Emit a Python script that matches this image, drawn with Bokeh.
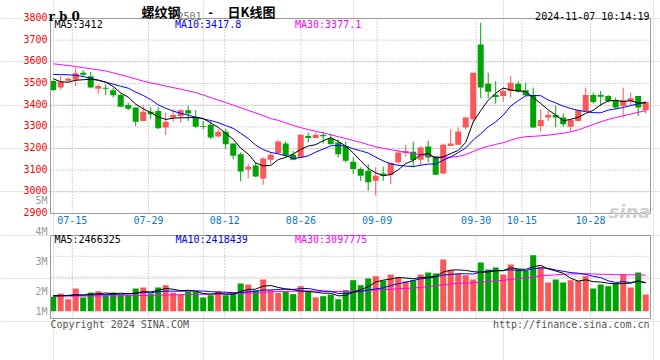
from bokeh.plotting import figure
from bokeh.models import Range1d, Label
from bokeh.embed import file_html
from bokeh.resources import INLINE

dates = ["07-10","07-11","07-12","07-15","07-16","07-17","07-18","07-19","07-22","07-23",
         "07-24","07-25","07-26","07-29","07-30","07-31","08-01","08-02","08-05","08-06",
         "08-07","08-08","08-09","08-12","08-13","08-14","08-15","08-16","08-19","08-20",
         "08-21","08-22","08-23","08-26","08-27","08-28","08-29","08-30","09-02","09-03",
         "09-04","09-05","09-06","09-09","09-10","09-11","09-12","09-13","09-18","09-19",
         "09-20","09-23","09-24","09-25","09-26","09-27","09-30","10-08","10-09","10-10",
         "10-11","10-14","10-15","10-16","10-17","10-18","10-21","10-22","10-23","10-24",
         "10-25","10-28","10-29","10-30","10-31","11-01","11-04","11-05","11-06","11-07"]

opens = [3511,3481,3513,3517,3550,3534,3476,3479,3469,3447,
         3401,3389,3327,3370,3373,3297,3343,3349,3377,3346,
         3303,3309,3255,3277,3223,3174,3103,3122,3062,3148,
         3179,3223,3171,3159,3258,3248,3262,3246,3228,3212,
         3139,3105,3097,3051,3085,3078,3136,3179,3185,3148,
         3209,3162,3085,3212,3217,3297,3335,3680,3499,3447,
         3442,3465,3499,3469,3447,3304,3343,3355,3343,3300,
         3327,3373,3447,3447,3442,3423,3396,3419,3442,3377]
highs = [3515,3534,3528,3573,3561,3553,3496,3496,3481,3452,
         3412,3389,3401,3389,3392,3366,3381,3381,3396,3377,
         3327,3327,3289,3289,3223,3182,3131,3136,3159,3182,
         3239,3232,3189,3266,3274,3274,3278,3269,3243,3232,
         3159,3113,3128,3113,3116,3136,3193,3217,3231,3212,
         3235,3166,3223,3289,3297,3346,3550,3780,3550,3511,
         3481,3534,3511,3504,3481,3381,3373,3396,3361,3335,
         3381,3481,3458,3465,3447,3435,3481,3458,3442,3419]
lows = [3465,3471,3508,3488,3530,3481,3453,3447,3435,3393,
        3377,3304,3327,3335,3289,3263,3324,3320,3327,3294,
        3289,3243,3251,3200,3151,3048,3062,3068,3033,3128,
        3174,3159,3145,3159,3228,3248,3223,3220,3159,3136,
        3082,3050,3005,2983,3051,3036,3128,3163,3113,3120,
        3136,3079,3080,3212,3217,3289,3320,3432,3432,3407,
        3416,3435,3458,3442,3297,3278,3327,3297,3301,3281,
        3324,3373,3407,3396,3412,3381,3343,3396,3350,3361]
closes = [3470,3508,3522,3547,3540,3481,3488,3476,3446,3393,
          3384,3324,3370,3358,3294,3324,3355,3377,3361,3300,
          3300,3251,3277,3220,3166,3094,3116,3071,3154,3171,
          3232,3166,3148,3263,3248,3263,3257,3220,3174,3143,
          3105,3074,3044,3074,3074,3133,3182,3189,3147,3205,
          3159,3079,3217,3223,3278,3343,3550,3481,3462,3438,
          3465,3504,3462,3446,3297,3332,3355,3343,3312,3331,
          3377,3447,3415,3439,3419,3389,3423,3432,3389,3415]
volumes = [1236000,1519000,1030000,1948000,1176000,1605000,1717000,1373000,1605000,1433000,
           1373000,1948000,2034000,1519000,2034000,2232000,1579000,1459000,1665000,1665000,
           1176000,1373000,1717000,1373000,1605000,2378000,2292000,1803000,2721000,1803000,
           1579000,1665000,1459000,2146000,1665000,1176000,1288000,1433000,1030000,1803000,
           2661000,2232000,2807000,3004000,2609000,3150000,2893000,2575000,2661000,3150000,
           3322000,3236000,4438000,3494000,3236000,3090000,2721000,4180000,3579000,3751000,
           3150000,4009000,3605000,3468000,4807000,3811000,2464000,2721000,2464000,2661000,
           2609000,3004000,1948000,2292000,2146000,2378000,3150000,2034000,3322000,1433000]

ma5_head = [3522, 3508, 3506, 3515]
ma10_head = [3542, 3541, 3540, 3538, 3532, 3524, 3515, 3506, 3497]
ma30_head = [3591, 3587, 3583, 3578, 3573, 3568, 3563, 3558, 3549, 3540,
             3531, 3521, 3511, 3503, 3496, 3488, 3481, 3474, 3466, 3458,
             3447, 3435, 3423, 3412, 3400, 3388, 3376, 3364, 3352]
vma5_head = [1300000, 1320000, 1350000, 1420000]
vma10_head = [1340000, 1345000, 1350000, 1370000, 1385000, 1400000, 1420000, 1430000, 1450000]
vma30_head = [1290000, 1290000, 1295000, 1300000, 1300000, 1305000, 1310000, 1310000, 1315000, 1320000,
              1330000, 1340000, 1350000, 1360000, 1375000, 1390000, 1400000, 1410000, 1425000, 1440000,
              1450000, 1460000, 1475000, 1490000, 1505000, 1525000, 1545000, 1565000, 1590000]

tick_dates = ["07-15", "07-29", "08-12", "08-26", "09-09", "09-30", "10-15", "10-28"]
price_ticks = [2900, 3000, 3100, 3200, 3300, 3400, 3500, 3600, 3700, 3800]
vol_labels = ["5M", "4M", "3M", "2M", "1M"]
ma_price_text = ["MA5:3412", "MA10:3417.8", "MA30:3377.1"]
ma_vol_text = ["MA5:2466325", "MA10:2418439", "MA30:3097775"]


def moving_average(vals, n, head):
    out = []
    for i in range(len(vals)):
        if i < n - 1:
            out.append(head[i])
        else:
            out.append(sum(vals[i - n + 1:i + 1]) / n)
    return out


# ---------------- geometry (page pixels) ----------------
W, H = 660, 360
PANEL_L, PANEL_R = 50, 650
PRICE_T, PRICE_B = 18, 213
VOL_T, VOL_B = 235, 318
x_lo, x_hi = -0.36, len(dates) - 0.36
p_lo, p_hi = price_ticks[0], price_ticks[-1]
v_lo, v_hi = -627000, 6498000

xppu = (PANEL_R - PANEL_L) / (x_hi - x_lo)          # px per bar slot
pupp = (p_hi - p_lo) / (PRICE_B - PRICE_T)          # price per px
vupp = (v_hi - v_lo) / (VOL_B - VOL_T)              # volume per px
x_start = x_lo - PANEL_L / xppu
x_end = x_hi + (W - PANEL_R) / xppu
y_start = p_lo - (H - PRICE_B) * pupp
y_end = p_hi + PRICE_T * pupp
vy_start = v_lo - (H - VOL_B) * vupp
vy_end = v_hi + VOL_T * vupp


def gx(X):
    return x_start + X / xppu


def gy(Y):
    return y_end - Y * pupp


UP = "#fa5858"
DOWN = "#00a400"
GRID = "#aaaaaa"
BORDER = "#999999"
MONO = "DejaVu Sans Mono"

xs = list(range(len(dates)))
colors = [UP if c > o else DOWN for o, c in zip(opens, closes)]
body_lo = [min(o, c) for o, c in zip(opens, closes)]
body_hi = [max(max(o, c), min(o, c) + 4) for o, c in zip(opens, closes)]
grid_step = 1.016  # Sina's date grid drifts slightly against the bar slots
grid_x = [dates.index(d) * grid_step - 0.5 for d in tick_dates]

p = figure(width=W, height=H, x_range=Range1d(x_start, x_end), y_range=Range1d(y_start, y_end),
           output_backend="svg", toolbar_location=None, x_axis_location=None,
           y_axis_location=None, min_border=0, title=None)
p.extra_y_ranges = {"vol": Range1d(vy_start, vy_end)}
p.outline_line_color = None
p.background_fill_color = "white"
p.border_fill_color = "white"

# ---- grids ----
inner = price_ticks[1:-1]
p.segment(x0=[x_lo] * len(inner), y0=inner, x1=[x_hi] * len(inner), y1=inner,
          line_color=GRID, line_dash="1 2", line_width=1)
p.segment(x0=grid_x, y0=[p_lo] * len(grid_x), x1=grid_x, y1=[p_hi] * len(grid_x),
          line_color=GRID, line_dash="1 2", line_width=1)
vgrid = [v_lo + k * (v_hi - v_lo) / 4 for k in (1, 2, 3)]
p.segment(x0=[x_lo] * 3, y0=vgrid, x1=[x_hi] * 3, y1=vgrid, y_range_name="vol",
          line_color=GRID, line_dash="1 2", line_width=1)
p.segment(x0=grid_x, y0=[v_lo] * len(grid_x), x1=grid_x, y1=[v_hi] * len(grid_x),
          y_range_name="vol", line_color=GRID, line_dash="1 2", line_width=1)

# ---- candles ----
p.segment(x0=xs, y0=lows, x1=xs, y1=highs, color=colors, line_width=1)
p.vbar(x=xs, width=0.8, bottom=body_lo, top=body_hi, fill_color=colors, line_color=None)
p.line(xs, moving_average(closes, 30, ma30_head), color="#ff00ff", line_width=1)
p.line(xs, moving_average(closes, 10, ma10_head), color="#0000ff", line_width=1)
p.line(xs, moving_average(closes, 5, ma5_head), color="#000000", line_width=1)

# ---- volume ----
p.vbar(x=xs, width=0.8, bottom=0, top=volumes, fill_color=colors, line_color=None,
       y_range_name="vol")
p.line(xs, moving_average(volumes, 30, vma30_head), color="#ff00ff", line_width=1, y_range_name="vol")
p.line(xs, moving_average(volumes, 10, vma10_head), color="#0000ff", line_width=1, y_range_name="vol")
p.line(xs, moving_average(volumes, 5, vma5_head), color="#000000", line_width=1, y_range_name="vol")

# ---- panel borders ----
p.quad(left=x_lo, right=x_hi, bottom=p_lo, top=p_hi, fill_color=None, line_color=BORDER, line_width=1)
p.quad(left=x_lo, right=x_hi, bottom=v_lo, top=v_hi, fill_color=None, line_color=BORDER,
       line_width=1, y_range_name="vol")


def lab(text, x, y, color="black", size="10px", font=MONO, align="left",
        baseline="middle", style="normal"):
    p.add_layout(Label(x=x, y=y, text=text, text_color=color, text_font_size=size,
                       text_font=font, text_align=align, text_baseline=baseline,
                       text_font_style=style))


# price axis labels (slightly above their grid lines, as on Sina)
for t in price_ticks:
    lab(str(t), gx(47), t + 1.5 * pupp, color="#ff0000", align="right")
# date labels
for d, g in zip(tick_dates, grid_x):
    lab(d, g, gy(219.5), color="#0a78c8", align="center")

lab("r b 0", gx(48), gy(16), size="12px", font="DejaVu Serif", style="bold", baseline="alphabetic")
lab("螺纹钢", gx(141), gy(11), size="13px", font="Noto Sans CJK SC", style="bold")
lab("2501", gx(177), gy(15.5), color="#777777", baseline="alphabetic")
lab("-", gx(210), gy(11), size="11px", align="center", style="bold")
lab("日K线图", gx(227), gy(11), size="13px", font="Noto Sans CJK SC", style="bold")
lab("2024-11-07 10:14:19", gx(649), gy(15.5), align="right", baseline="alphabetic")

lab(ma_price_text[0], gx(54), gy(24), color="#000000")
lab(ma_price_text[1], gx(174.5), gy(24), color="#0000ff")
lab(ma_price_text[2], gx(294.5), gy(24), color="#ff00ff")
lab(ma_vol_text[0], gx(54), gy(238.5), color="#000000")
lab(ma_vol_text[1], gx(175), gy(238.5), color="#0000ff")
lab(ma_vol_text[2], gx(294.5), gy(238.5), color="#ff00ff")

for t, Y in zip(vol_labels, (200, 231, 261, 291, 311)):
    lab(t, gx(47), gy(Y), color="#999999", align="right")

lab("sina", gx(650), gy(211), color="#cfcfcf", size="18px", font="DejaVu Sans",
    align="right", baseline="alphabetic", style="bold italic")
lab("Copyright 2024 SINA.COM", gx(50), gy(324), color="#555555")
lab("http://finance.sina.com.cn", gx(649), gy(324), color="#555555", align="right")

open("out.html", "w").write(file_html(p, INLINE))
